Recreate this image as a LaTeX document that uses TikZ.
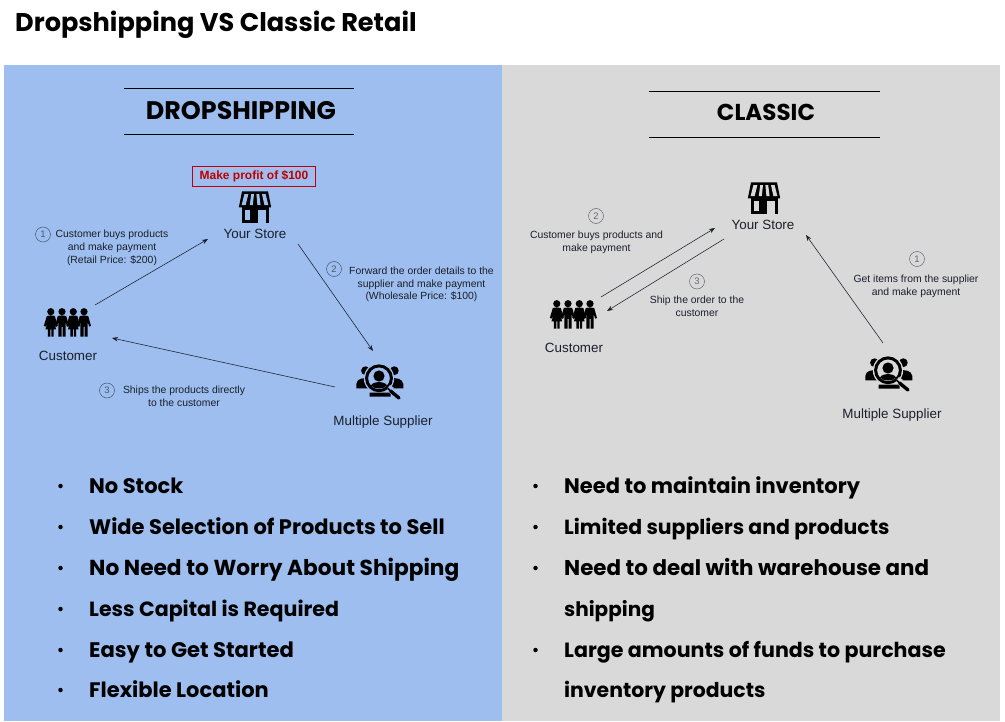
\documentclass[tikz,border=0pt]{standalone}
\usepackage{fontspec}
\setmainfont{Liberation Sans}
\newfontfamily\headfont{Poppins}[BoldFont=Poppins Bold]
\usetikzlibrary{arrows.meta}
\definecolor{panelblue}{HTML}{9DBEEE}
\definecolor{panelgray}{HTML}{D9D9D9}
\definecolor{inkdark}{HTML}{1A1F2B}
\definecolor{profitred}{HTML}{C00000}
\tikzset{
  x=1pt,y=-1pt,
  conn/.style={draw=inkdark,line width=0.55pt,-{Stealth[length=6pt,width=4.5pt]}},
  small/.style={font=\fontsize{10.4}{12.8}\selectfont,text=inkdark,align=center,inner sep=0pt},
  iconlabel/.style={font=\fontsize{13.4}{15}\selectfont,text=inkdark,inner sep=0pt,anchor=base},
  numc/.style={circle,draw=#1,line width=0.5pt,minimum size=15pt,inner sep=0pt,font=\fontsize{9.5}{11}\selectfont,text=#1},
  bigttl/.style={inner sep=0pt,anchor=base},
  rule/.style={draw=black,line width=0.8pt},
  bullettext/.style={font=\headfont\bfseries\fontsize{#1}{24}\selectfont,anchor=base west,inner sep=0pt},
  bulletdot/.style={circle,fill=black,inner sep=0pt,minimum size=4.5pt},
  anchorpt/.style={inner sep=0pt,minimum size=0pt},
  pics/store/.style={code={
    \fill[black] (-13,-16) -- (13,-16) -- (16.2,0) -- (-16.2,0) -- cycle;
    \foreach \a/\b/\c/\d in {-10.6/-6.6/-13.4/-9.4, -3.8/-1/-5.2/-2.2, 1.4/4.2/2.4/5.6, 7/10.6/9.4/13.4}
      {\fill[#1] (\a,-13.4) -- (\b,-13.4) -- (\d,-2.4) -- (\c,-2.4) -- cycle;}
    \fill[black] (-13.5,-1) rectangle (14,3);
    \fill[black] (-13.5,-1) rectangle (-10,16);
    \fill[black] (10.6,-1) rectangle (14,16);
    \fill[black] (-1,-1) rectangle (2.6,16);
    \fill[black] (-13.5,12.6) rectangle (2.6,16);
    \fill[#1] (-10,3) rectangle (-1,12.6);
    \fill[black] (-4.6,3) rectangle (-1,12.6);
    \fill[#1] (2.6,3) rectangle (10.6,16);
  }},
  pics/fperson/.style={code={
    \fill (0,-11.3) circle (3.6);
    \fill (-4,-7) .. controls (-1.5,-7.8) and (1.5,-7.8) .. (4,-7) -- (7,3) -- (5.2,3.6) -- (3.2,-1) -- (5.4,6.5) -- (2.9,6.5) -- (2.9,13.7) -- (0.5,13.7) -- (0.5,6.5) -- (-0.5,6.5) -- (-0.5,13.7) -- (-2.9,13.7) -- (-2.9,6.5) -- (-5.4,6.5) -- (-3.2,-1) -- (-5.2,3.6) -- (-7,3) -- cycle;
  }},
  pics/mperson/.style={code={
    \fill (0,-11.3) circle (3.6);
    \fill (-4.2,-7) .. controls (-1.5,-7.8) and (1.5,-7.8) .. (4.2,-7) -- (7,3) -- (5.2,3.6) -- (3.6,-1) -- (3.6,13.7) -- (0.5,13.7) -- (0.5,4) -- (-0.5,4) -- (-0.5,13.7) -- (-3.6,13.7) -- (-3.6,-1) -- (-5.2,3.6) -- (-7,3) -- cycle;
  }},
  pics/crowd/.style={code={
    \pic at (-17.2,0) {fperson};
    \pic at (-6,0) {mperson};
    \pic at (5.3,0) {fperson};
    \pic at (16,0) {mperson};
  }},
  pics/seeker/.style={code={
    \fill (-13.5,-9.3) circle (4.4);
    \fill (15.3,-9.3) circle (4.4);
    \fill (-22.7,8.3) -- (-22.7,4) .. controls (-22,-1.5) and (-16,-2.5) .. (-11,-1.5) -- (-11,8.3) -- cycle;
    \fill (24.3,8.3) -- (24.3,4) .. controls (23.5,-1.5) and (17,-2.5) .. (11,-1.5) -- (11,8.3) -- cycle;
    \fill[#1] (0,-1.7) circle (15.2);
    \fill[black] (-9.5,12.5) -- (9.3,12.5) -- (11.5,14) -- (11.5,16.7) -- (-9.5,16.7) -- cycle;
    \draw[line width=3pt] (0,-1.7) circle (12.4);
    \fill (0,-4) circle (5.6);
    \fill (-8,5.5) .. controls (-6,1) and (6,1) .. (8,5.5) .. controls (4,9.5) and (-4,9.5) .. (-8,5.5) -- cycle;
    \fill[#1] (8,8.5) -- (11,11.5) -- (15,8) -- (11,5) -- cycle;
    \draw[line width=1.6pt] (8.5,8) -- (12,11.5);
    \draw[line width=3.4pt,line cap=round] (11.5,11) -- (20,18);
  }},
}
\begin{document}
\begin{tikzpicture}
\useasboundingbox (0,0) rectangle (1005,722);
\fill[white] (0,0) rectangle (1005,722);
\fill[panelblue] (4,65) rectangle (502,721);
\fill[panelgray] (502,65) rectangle (1000,721);

\node[font=\headfont\bfseries\fontsize{25.6}{30}\selectfont,anchor=base west,inner sep=0pt] (maintitle) at (15,32) {Dropshipping VS Classic Retail};

% --- left panel ---
\draw[rule] (124,88.5) -- (354,88.5);
\draw[rule] (124,134.5) -- (354,134.5);
\node[bigttl,font=\headfont\bfseries\fontsize{25.4}{30}\selectfont] (dtitle) at (241,119.3) {DROPSHIPPING};

\node[draw=profitred,line width=0.7pt,text=profitred,minimum width=123pt,minimum height=20pt,inner sep=0pt,font=\bfseries\fontsize{12}{14}\selectfont] (profit) at (254,176.3) {Make profit of \$100};
\node[anchorpt] (storeA) at (255,207.5) {};
\pic at (storeA) {store=panelblue};
\node[iconlabel] (storeAl) at (255,239) {Your Store};
\node[anchorpt] (custA) at (68,323) {};
\pic at (custA) {crowd};
\node[iconlabel] (custAl) at (68,360) {Customer};
\node[anchorpt] (suppA) at (379,380) {};
\pic at (suppA) {seeker=panelblue};
\node[iconlabel] (suppAl) at (383,425) {Multiple Supplier};

\node[numc=inkdark!65!panelblue] (a1) at (43,234.5) {1};
\node[small] (a1t) at (112,248) {Customer buys products\\and make payment\\(Retail Price: \$200)};
\node[numc=inkdark!65!panelblue] (a2) at (334,269) {2};
\node[small] (a2t) at (421.5,284.5) {Forward the order details to the\\supplier and make payment\\(Wholesale Price: \$100)};
\node[numc=inkdark!65!panelblue] (a3) at (107,390.5) {3};
\node[small] (a3t) at (184,396.5) {Ships the products directly\\to the customer};

\coordinate (a1s) at (95,305);
\coordinate (a1e) at (208,239);
\coordinate (a2s) at (298,244);
\coordinate (a2e) at (373,351);
\coordinate (a3s) at (335,387);
\coordinate (a3e) at (112,338);
\draw[conn] (a1s) -- (a1e);
\draw[conn] (a2s) -- (a2e);
\draw[conn] (a3s) -- (a3e);

\foreach \n/\y/\s/\t in {1/486/21/No Stock,2/527/21/Wide Selection of Products to Sell,3/568/21.7/No Need to Worry About Shipping,4/609/20.6/Less Capital is Required,5/650/21.1/Easy to Get Started,6/690/21/Flexible Location}{
  \node[bulletdot] (lb\n) at (60.5,\y) {};
  \node[bullettext=\s] (lt\n) at (89,\y+7) {\t};
}

% --- right panel ---
\draw[rule] (649,91.5) -- (880,91.5);
\draw[rule] (649,137.5) -- (880,137.5);
\node[bigttl,font=\headfont\bfseries\fontsize{23}{30}\selectfont] (ctitle) at (766,121) {CLASSIC};

\node[anchorpt] (storeB) at (764,198.5) {};
\pic at (storeB) {store=panelgray};
\node[iconlabel] (storeBl) at (763,230) {Your Store};
\node[anchorpt] (custB) at (574,315) {};
\pic at (custB) {crowd};
\node[iconlabel] (custBl) at (574,352.5) {Customer};
\node[anchorpt] (suppB) at (888,372) {};
\pic at (suppB) {seeker=panelgray};
\node[iconlabel] (suppBl) at (892,418) {Multiple Supplier};

\node[numc=inkdark!60!panelgray] (b2) at (596,216) {2};
\node[small] (b2t) at (596.5,242.5) {Customer buys products and\\make payment};
\node[numc=inkdark!60!panelgray] (b3) at (697,281.5) {3};
\node[small] (b3t) at (697,306) {Ship the order to the\\customer};
\node[numc=inkdark!60!panelgray] (b1) at (917,259) {1};
\node[small] (b1t) at (916,286) {Get items from the supplier\\and make payment};

\coordinate (b2s) at (601,297);
\coordinate (b2e) at (715,228);
\coordinate (b3s) at (724,239);
\coordinate (b3e) at (607,311);
\coordinate (b1s) at (883,343);
\coordinate (b1e) at (806,235);
\draw[conn] (b2s) -- (b2e);
\draw[conn] (b3s) -- (b3e);
\draw[conn] (b1s) -- (b1e);

\foreach \n/\y/\s/\t in {1/486/21/Need to maintain inventory,2/527/20.4/Limited suppliers and products,3/568/21.4/Need to deal with warehouse and}{
  \node[bulletdot] (rb\n) at (535.5,\y) {};
  \node[bullettext=\s] (rt\n) at (564,\y+7) {\t};
}
\node[bullettext=20] (rt3b) at (564,616) {shipping};
\node[bulletdot] (rb4) at (535.5,650) {};
\node[bullettext=20.6] (rt4) at (564,657) {Large amounts of funds to purchase};
\node[bullettext=20.4] (rt4b) at (564,697) {inventory products};
\end{tikzpicture}
\end{document}
